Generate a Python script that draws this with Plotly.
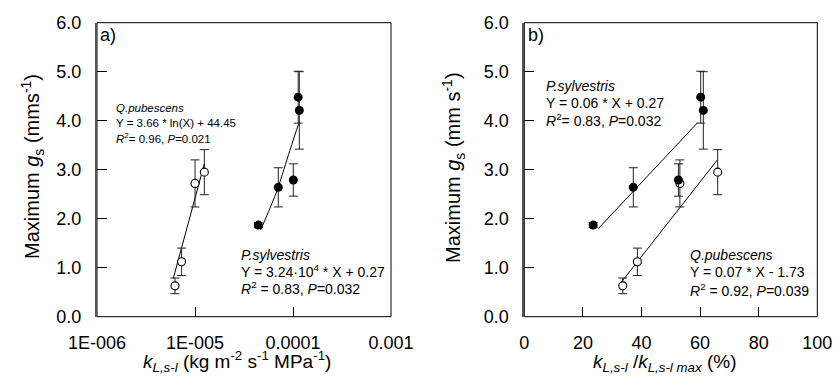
import plotly.graph_objects as go

# ---------------- data ----------------
# Panel a: maximum gs vs kL,s-l (log axis)
qp_k = [6.25e-6, 7.3e-6, 1.0e-5, 1.245e-5]
qp_gs = [0.63, 1.12, 2.72, 2.95]
qp_err = [0.16, 0.28, 0.48, 0.46]

ps_k = [4.43e-5, 7.08e-5, 1.007e-4, 1.13e-4, 1.16e-4]
ps_gs = [1.87, 2.64, 2.79, 4.48, 4.21]
ps_err = [0.05, 0.40, 0.33, 0.53, 0.79]

# Panel b: maximum gs vs kL,s-l / kL,s-l max (%)
ps_pct = [23.5, 37.2, 52.6, 60.2, 61.1]
qp_pct = [33.6, 38.6, 53.1, 66.0]

# fitted lines as drawn in the picture
qp_fit_a_k = [6.0e-6, 1.245e-5]
qp_fit_a_gs = [0.78, 3.12]
ps_fit_a_k = [4.68e-5, 6.30e-5, 7.08e-5, 9.31e-5, 1.16e-4]
ps_fit_a_gs = [1.77, 2.38, 2.65, 3.40, 3.98]
ps_fit_b_pct = [25.3, 59.0]
ps_fit_b_gs = [1.80, 3.95]
qp_fit_b_pct = [33.2, 65.9]
qp_fit_b_gs = [0.71, 3.20]

y_ticks = [0, 1, 2, 3, 4, 5, 6]
xa_ticks = [1e-6, 1e-5, 1e-4, 1e-3]
xa_text = ["1E-006", "1E-005", "0.0001", "0.001"]
xb_ticks = [0, 20, 40, 60, 80, 100]

# ---------------- figure ----------------
W, H = 838, 385
FONT = "Liberation Sans, Arial, Helvetica, sans-serif"


def px(x):
    return x / W


def py(y):
    return 1 - y / H


err_style = dict(type="data", thickness=1, width=4.5, color="#222")
open_marker = dict(symbol="circle", size=8, color="white", line=dict(color="black", width=1.1))
fill_marker = dict(symbol="circle", size=9, color="black", line=dict(color="black", width=0))
fit_line = dict(color="black", width=1)

fig = go.Figure()

# panel a
fig.add_trace(go.Scatter(x=qp_fit_a_k, y=qp_fit_a_gs, mode="lines", line=fit_line,
                         xaxis="x", yaxis="y", showlegend=False, hoverinfo="skip"))
fig.add_trace(go.Scatter(x=ps_fit_a_k, y=ps_fit_a_gs, mode="lines", line=dict(shape="spline", **fit_line),
                         xaxis="x", yaxis="y", showlegend=False, hoverinfo="skip"))
fig.add_trace(go.Scatter(x=qp_k, y=qp_gs, mode="markers", marker=open_marker,
                         error_y=dict(array=qp_err, **err_style), xaxis="x", yaxis="y",
                         showlegend=False, cliponaxis=False))
fig.add_trace(go.Scatter(x=ps_k, y=ps_gs, mode="markers", marker=fill_marker,
                         error_y=dict(array=ps_err, **err_style), xaxis="x", yaxis="y",
                         showlegend=False, cliponaxis=False))

# panel b
fig.add_trace(go.Scatter(x=ps_fit_b_pct, y=ps_fit_b_gs, mode="lines", line=fit_line,
                         xaxis="x2", yaxis="y2", showlegend=False, hoverinfo="skip"))
fig.add_trace(go.Scatter(x=qp_fit_b_pct, y=qp_fit_b_gs, mode="lines", line=fit_line,
                         xaxis="x2", yaxis="y2", showlegend=False, hoverinfo="skip"))
fig.add_trace(go.Scatter(x=qp_pct, y=qp_gs, mode="markers", marker=open_marker,
                         error_y=dict(array=qp_err, **err_style), xaxis="x2", yaxis="y2",
                         showlegend=False, cliponaxis=False))
fig.add_trace(go.Scatter(x=ps_pct, y=ps_gs, mode="markers", marker=fill_marker,
                         error_y=dict(array=ps_err, **err_style), xaxis="x2", yaxis="y2",
                         showlegend=False, cliponaxis=False))

tickfont = dict(family=FONT, size=18, color="black")
common_x = dict(showgrid=False, zeroline=False, showline=False, ticks="inside", ticklen=10,
                tickwidth=1, tickcolor="black", tickfont=tickfont, automargin=False,
                ticklabelstandoff=13)
common_y = dict(showgrid=False, zeroline=False, showline=True, linecolor="#555", linewidth=2,
                ticks="inside", ticklen=10, tickwidth=1, tickcolor="black", tickfont=tickfont,
                range=[0, 6], tickvals=y_ticks, tickformat=".1f", automargin=False,
                ticklabelstandoff=10)

ydom = [py(316.7), py(22.7)]
fig.update_layout(
    width=W, height=H,
    margin=dict(l=0, r=0, t=0, b=0),
    paper_bgcolor="white", plot_bgcolor="white",
    font=dict(family=FONT, color="black"),
    xaxis=dict(type="log", range=[-6, -3], tickvals=xa_ticks, ticktext=xa_text,
               domain=[px(97), px(391)], anchor="y", **common_x),
    yaxis=dict(domain=ydom, anchor="x", **common_y),
    xaxis2=dict(range=[0, 100], tickvals=xb_ticks, domain=[px(524.3), px(817.3)],
                anchor="y2", **common_x),
    yaxis2=dict(domain=ydom, anchor="x2", **common_y),
)

# frames
for xr, yr in (("x domain", "y domain"), ("x2 domain", "y2 domain")):
    fig.add_shape(type="rect", xref=xr, yref=yr, x0=0, x1=1, y0=0, y1=1,
                  line=dict(color="black", width=1), layer="below")


def note(x, y, text, size, xanchor="left", angle=0):
    fig.add_annotation(x=px(x), y=py(y), xref="paper", yref="paper", text=text,
                       showarrow=False, xanchor=xanchor, yanchor="middle", textangle=angle,
                       font=dict(family=FONT, size=size, color="black"))


# panel labels
note(98, 35, "a)", 18)
note(525.5, 35, "b)", 18)

# axis titles
note(32, 167, "Maximum <i>g</i><sub>s</sub> (mms<sup>-1</sup>)", 20, xanchor="center", angle=-90)
note(453, 167, "Maximum <i>g</i><sub>s</sub> (mm s<sup>-1</sup>)", 20, xanchor="center", angle=-90)
note(237, 361, "<i>k</i><sub><i>L,s-l</i></sub> (kg m<sup>-2</sup> s<sup>-1</sup> MPa<sup>-1</sup>)",
     19, xanchor="center")
note(664, 363, "<i>k</i><sub><i>L,s-l</i></sub> /<i>k</i><sub><i>L,s-l max</i></sub> (%)",
     19, xanchor="center")

# panel a equations
note(114, 108, "<i>Q.pubescens</i>", 11.5)
note(114, 123, "Y = 3.66 * ln(X) + 44.45", 11.5)
note(114, 137.5, "<i>R</i><sup>2</sup>= 0.96, <i>P</i>=0.021", 11.5)
note(239, 254.5, "<i>P.sylvestris</i>", 14)
note(239, 271, "Y = 3.24·10<sup>4</sup> * X + 0.27", 14)
note(239, 287.5, "<i>R</i><sup>2</sup> = 0.83, <i>P</i>=0.032", 14)

# panel b equations
note(544, 86, "<i>P.sylvestris</i>", 14)
note(544, 103, "Y = 0.06 * X + 0.27", 14)
note(544, 119.5, "<i>R</i><sup>2</sup>= 0.83, <i>P</i>=0.032", 14)
note(688, 254.5, "<i>Q.pubescens</i>", 14)
note(688, 271.5, "Y = 0.07 * X - 1.73", 14)
note(688, 289.5, "<i>R</i><sup>2</sup> = 0.92, <i>P</i>=0.039", 14)

fig.write_html(
    "out.html",
    config={"displayModeBar": False},
    post_script="document.body.style.margin='0px';document.body.style.overflow='hidden';",
)
